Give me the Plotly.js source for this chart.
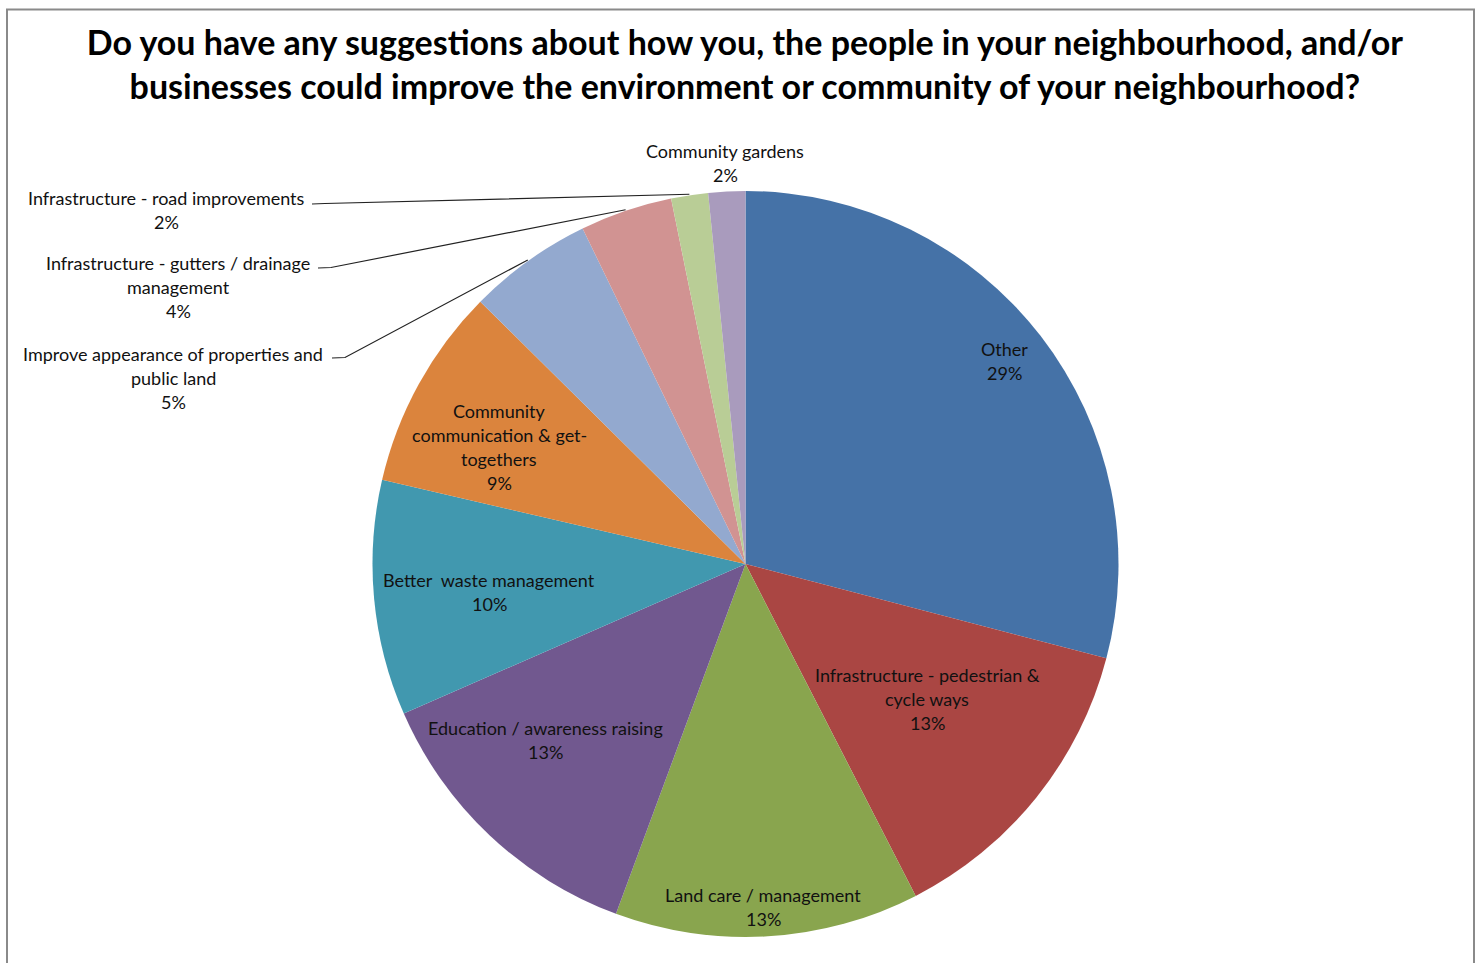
<!DOCTYPE html>
<html><head><meta charset="utf-8">
<script src="https://cdn.plot.ly/plotly-3.0.1.min.js"></script>
<style>html,body{margin:0;padding:0;background:#fff;overflow:hidden;} #chart{width:1481px;height:963px;}</style>
</head><body><div id="chart"></div>
<script>
// ---- data ----
const categories = [
  "Other",
  "Infrastructure - pedestrian & cycle ways",
  "Land care / management",
  "Education / awareness raising",
  "Better  waste management",
  "Community communication & get-togethers",
  "Improve appearance of properties and public land",
  "Infrastructure - gutters / drainage management",
  "Infrastructure - road improvements",
  "Community gardens"
];
const values = [29.1, 13.4, 13.2, 12.8, 10.2, 8.8, 5.4, 4.0, 1.6, 1.6];
const labelLines = [
  ["Other"],
  ["Infrastructure - pedestrian &", "cycle ways"],
  ["Land care / management"],
  ["Education / awareness raising"],
  ["Better  waste management"],
  ["Community", "communication & get-", "togethers"],
  ["Improve appearance of properties and", "public land"],
  ["Infrastructure - gutters / drainage", "management"],
  ["Infrastructure - road improvements"],
  ["Community gardens"]
];
const titleText = "Do you have any suggestions about how you, the people in your neighbourhood, and/or<br>businesses could improve the environment or community of your neighbourhood?";

// ---- styles / layout ----
const colors = ["#4572A7","#AA4643","#89A54E","#71588F","#4198AF","#DB843D","#93A9CF","#D19392","#B9CD96","#A99BBD"];
const W = 1481, H = 963;
const cx = 745.5, cy = 564, R = 373;
const FONT = "Lato, 'Open Sans', sans-serif";
const LINE = 24;
// label block anchors (center x, first-line center y) in pixels
const labelAnchors = [[1004,349],[927,675],[763,895],[545,728],[489,580],[499,411],[173,354],[178,263],[166,198],[725,151]];
// leader line starts for outside labels (index -> pixel start)
const leaderStarts = {6:[332,358], 7:[318,268], 8:[312,204]};

const px = x => x / W;
const py = y => 1 - y / H;

const total = values.reduce((a,b)=>a+b,0);
const pctText = values.map(v => Math.round(v/total*100) + "%");

const annotations = [];
labelLines.forEach((lines, i) => {
  const all = lines.concat([pctText[i]]);
  all.forEach((t, j) => {
    annotations.push({
      x: px(labelAnchors[i][0]), y: py(labelAnchors[i][1] + j*LINE),
      xref: "paper", yref: "paper", text: t, showarrow: false,
      xanchor: "center", yanchor: "middle",
      font: {family: FONT, size: 18, color: "#111"}
    });
  });
});

// leader lines computed from slice mid-angles
const shapes = [];
let cum = 0;
const mids = values.map(v => { const m = (cum + v/2)/total * 2*Math.PI; cum += v; return m; });
Object.keys(leaderStarts).forEach(k => {
  const i = +k, s = leaderStarts[k];
  const a = mids[i];
  const tx = cx + (R+1)*Math.sin(a), ty = cy - (R+1)*Math.cos(a);
  shapes.push({type:"path", xref:"paper", yref:"paper",
    path: `M ${px(s[0])},${py(s[1])} L ${px(s[0]+13)},${py(s[1]-0.5)} L ${px(tx)},${py(ty)}`,
    line:{color:"#222", width:1.2}});
});
// chart area border
shapes.push({type:"rect", xref:"paper", yref:"paper", x0:px(7), x1:px(1474), y0:-0.05, y1:py(9.5),
  line:{color:"#8a8a8a", width:2}, fillcolor:"rgba(0,0,0,0)"});

const trace = {
  type: "pie", labels: categories, values: values, sort: false,
  direction: "clockwise", rotation: 0,
  marker: {colors: colors, line: {width: 0}},
  textinfo: "none", hoverinfo: "label+percent", showlegend: false,
  domain: {x: [px(cx-R), px(cx+R)], y: [py(cy+R), py(cy-R)]}
};

const layout = {
  width: W, height: H, margin: {l:0, r:0, t:0, b:0},
  paper_bgcolor: "#fff", plot_bgcolor: "#fff", showlegend: false,
  title: {text: titleText, x: 0.503, xanchor: "center", y: py(55), yanchor: "middle", yref: "container",
    font: {family: FONT, size: 34, color: "#000", weight: "bold"}},
  annotations: annotations, shapes: shapes
};
Plotly.newPlot("chart", [trace], layout, {displayModeBar: false, responsive: false});
</script>
</body></html>
